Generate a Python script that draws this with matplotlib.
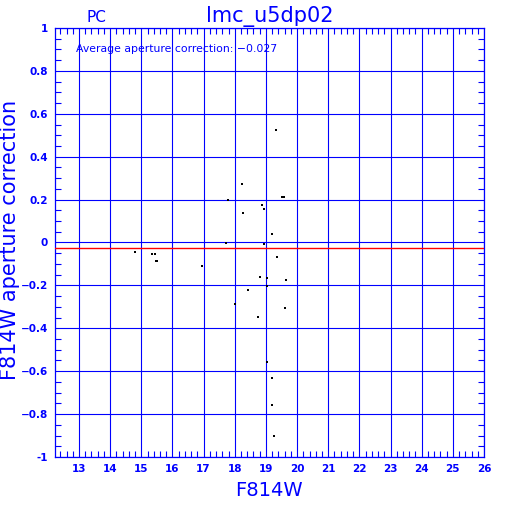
import numpy as np
import matplotlib
matplotlib.use("Agg")
import matplotlib.pyplot as plt
from matplotlib.ticker import MultipleLocator, FuncFormatter

# magnitudes and aperture corrections
mag = [19.32, 18.22, 17.77, 19.53, 19.57, 18.86, 18.95, 18.25, 19.18,
       17.73, 18.93, 19.37, 16.94, 18.80, 19.05, 19.63, 19.02, 18.41,
       18.02, 19.60, 18.76, 19.02, 19.21, 19.21, 19.27,
       14.79, 15.33, 15.43, 15.46, 15.50]
apcor = [0.524, 0.274, 0.200, 0.214, 0.214, 0.175, 0.158, 0.139, 0.038,
         -0.001, -0.005, -0.066, -0.108, -0.159, -0.164, -0.176, -0.201, -0.220,
         -0.285, -0.304, -0.346, -0.556, -0.630, -0.756, -0.904,
         -0.043, -0.052, -0.052, -0.085, -0.085]
avg_corr = -0.027
title = "lmc_u5dp02"
chip = "PC"

blue = "#0000ff"

fig = plt.figure(figsize=(5.12, 5.12), dpi=100)
ax = fig.add_axes([55/512, 1-457/512, (484-55)/512, (457-28)/512])

ax.plot(mag, apcor, "s", color="k", markersize=1.8, markeredgewidth=0)
ax.axhline(avg_corr, color="#ff0000", lw=1.0, zorder=3)

ax.set_xlim(12.23, 26)
ax.set_ylim(-1, 1)
ax.xaxis.set_major_locator(MultipleLocator(1))
ax.xaxis.set_minor_locator(MultipleLocator(0.2))
ax.yaxis.set_major_locator(MultipleLocator(0.2))
ax.yaxis.set_minor_locator(MultipleLocator(0.05))

def yfmt(v, pos):
    if abs(v) < 1e-9:
        return "0"
    if abs(abs(v) - 1) < 1e-9:
        return "%d" % round(v)
    return ("%.1f" % v).replace("-", "\u2212")

ax.yaxis.set_major_formatter(FuncFormatter(yfmt))
ax.xaxis.set_major_formatter(FuncFormatter(lambda v, p: "%d" % round(v)))

ax.grid(True, which="major", color=blue, lw=0.8)
ax.tick_params(which="both", direction="in", colors=blue, top=True, right=True,
               labelsize=7.5)
ax.tick_params(which="major", length=0, pad=5)
ax.tick_params(which="minor", length=4, width=0.8)
for lab in ax.get_xticklabels() + ax.get_yticklabels():
    lab.set_fontweight("bold")
for sp in ax.spines.values():
    sp.set_color(blue)
    sp.set_linewidth(0.9)

fig.text(269/512, 1-491/512, "F814W", color=blue, fontsize=14,
         ha="center", va="center")
fig.text(10/512, 1-240/512, "F814W aperture correction", color=blue,
         fontsize=15, rotation=90, ha="center", va="center")
ax.set_title(title, color=blue, fontsize=15, pad=4)
fig.text(96/512, 1-17/512, chip, color=blue, fontsize=11, ha="center", va="center")
ax.text(0.05, 0.95, "Average aperture correction: \u22120.027",
        transform=ax.transAxes, color=blue, fontsize=7.8, va="center")

fig.savefig("out.png", dpi=100)
